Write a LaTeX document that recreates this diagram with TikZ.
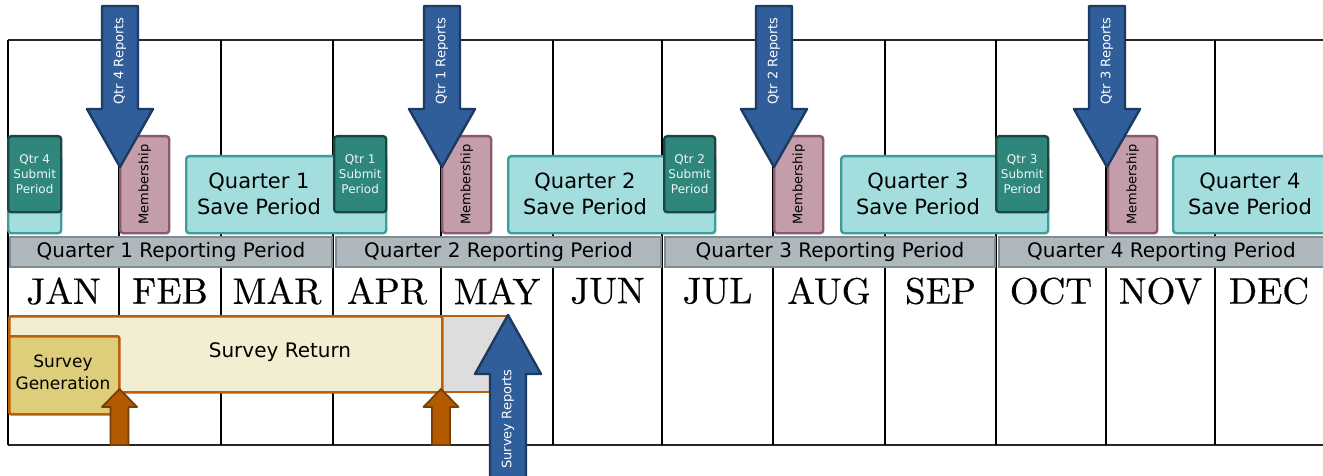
\documentclass[tikz,border=0pt]{standalone}
\usepackage{fontspec}
\newfontfamily\dvs{DejaVu Sans}
\newfontfamily\monthfont{lmroman10-regular}[Extension=.otf,FakeBold=0.35]
\definecolor{barfill}{HTML}{AEB8BC}
\definecolor{bardraw}{HTML}{7F8D92}
\definecolor{savefill}{HTML}{A4DDDD}
\definecolor{savedraw}{HTML}{3C9E9B}
\definecolor{subfill}{HTML}{2F877C}
\definecolor{subdraw}{HTML}{1C4641}
\definecolor{subtext}{HTML}{EEF7F5}
\definecolor{memfill}{HTML}{C39DA9}
\definecolor{memdraw}{HTML}{8A5A6C}
\definecolor{arrfill}{HTML}{2F5E9B}
\definecolor{arrdraw}{HTML}{1D3A60}
\definecolor{orfill}{HTML}{B35A00}
\definecolor{ordraw}{HTML}{7A3E05}
\definecolor{retfill}{HTML}{F3EDD1}
\definecolor{retdraw}{HTML}{BA5F0A}
\definecolor{genfill}{HTML}{DECD7A}
\definecolor{grayfill}{HTML}{DDDDDD}
\begin{document}
\begin{tikzpicture}[x=1pt,y=-1pt,
  hline/.style={line width=1.6pt,black!85},
  vline/.style={line width=2.2pt,black},
  month/.style={font=\monthfont\fontsize{37}{40}\selectfont,inner sep=0pt},
  barbox/.style={draw=bardraw,fill=barfill,line width=2pt,anchor=north west,inner sep=0pt,
    font=\dvs\fontsize{20}{24}\selectfont},
  savebox/.style={draw=savedraw,fill=savefill,line width=2.4pt,rounded corners=3pt,anchor=north west,inner sep=0pt,minimum height=77},
  savetext/.style={align=center,inner sep=0pt,font=\dvs\fontsize{21}{26}\selectfont},
  subbox/.style={draw=subdraw,fill=subfill,line width=2.4pt,rounded corners=3pt,anchor=north west,inner sep=0pt,minimum height=76,
    align=center,text=subtext,font=\dvs\fontsize{12}{15}\selectfont},
  membox/.style={draw=memdraw,fill=memfill,line width=2.4pt,rounded corners=3pt,anchor=north west,inner sep=0pt,minimum width=49,minimum height=97},
  memtext/.style={rotate=90,inner sep=0pt,font=\dvs\fontsize{13}{15}\selectfont},
  bluearrow/.style={draw=arrdraw,fill=arrfill,line width=2.4pt,line join=round},
  arrtext/.style={rotate=90,inner sep=0pt,text=white,font=\dvs\fontsize{13}{15}\selectfont},
  orarrow/.style={draw=ordraw,fill=orfill,line width=1.8pt,line join=round},
  retbox/.style={draw=retdraw,fill=retfill,line width=2.6pt,rounded corners=2pt,anchor=north west,inner sep=0pt},
  genbox/.style={draw=retdraw,fill=genfill,line width=2.6pt,rounded corners=2pt,anchor=north west,inner sep=0pt},
  graybox/.style={draw=retdraw,fill=grayfill,line width=1.6pt,anchor=north west,inner sep=0pt},
  survtext/.style={align=center,inner sep=0pt,font=\dvs\fontsize{20}{24}\selectfont},
  gentext/.style={align=center,inner sep=0pt,font=\dvs\fontsize{17}{22}\selectfont}]
\useasboundingbox (0,0) rectangle (1323,476);
\clip (0,0) rectangle (1323,476);
\fill[white] (0,0) rectangle (1323,476);

% grid
\draw[hline] (8,40) -- (1330,40);
\draw[hline] (8,445) -- (1330,445);
\foreach \x in {8,119,221,333,441,553,662,773,885,996,1106,1215}
  \draw[vline] (\x,40) -- (\x,445);

% months
\foreach \a/\b/\m in {8/119/JAN,119/221/FEB,221/333/MAR,333/441/APR,441/553/MAY,553/662/JUN,662/773/JUL,773/885/AUG,885/996/SEP,996/1106/OCT,1106/1215/NOV,1215/1323/DEC}
  \node[month] (m-\m) at ({(\a+\b)/2},291) {\m};

% reporting bars
\node[barbox,minimum width=322,minimum height=30] (bar1) at (9,236) {Quarter 1 Reporting Period};
\node[barbox,minimum width=325,minimum height=30] (bar2) at (335,236) {Quarter 2 Reporting Period};
\node[barbox,minimum width=330,minimum height=30] (bar3) at (664,236) {Quarter 3 Reporting Period};
\node[barbox,minimum width=325,minimum height=30] (bar4) at (998,236) {Quarter 4 Reporting Period};

% save periods
\node[savebox,minimum width=53] (save0) at (7,155) {};
\node[savebox,minimum width=200] (save1) at (185,155) {};
\node[savebox,minimum width=207] (save2) at (507,155) {};
\node[savebox,minimum width=207] (save3) at (840,155) {};
\node[savebox,minimum width=175] (save4) at (1172,155) {};
\node[savetext] (savet1) at (259,194) {Quarter 1\\Save Period};
\node[savetext] (savet2) at (585,194) {Quarter 2\\Save Period};
\node[savetext] (savet3) at (918,194) {Quarter 3\\Save Period};
\node[savetext] (savet4) at (1250,194) {Quarter 4\\Save Period};

% submit periods
\node[subbox,minimum width=53] (sub4) at (7,135) {Qtr 4\\Submit\\Period};
\node[subbox,minimum width=52] (sub1) at (333,135) {Qtr 1\\Submit\\Period};
\node[subbox,minimum width=51] (sub2) at (663,135) {Qtr 2\\Submit\\Period};
\node[subbox,minimum width=52] (sub3) at (995,135) {Qtr 3\\Submit\\Period};

% membership
\foreach \x/\n in {119/1,441/2,773/3,1107/4}{
  \node[membox] (mem\n) at (\x,135) {};
  \node[memtext] (memt\n) at (mem\n.center) {Membership};
}

% report arrows
\foreach \x/\t/\n in {120/Qtr 4 Reports/4,442/Qtr 1 Reports/1,774/Qtr 2 Reports/2,1107/Qtr 3 Reports/3}{
  \draw[bluearrow] (\x-18,6) -- (\x-18,109) -- (\x-33,109) -- (\x,167) -- (\x+33,109) -- (\x+18,109) -- (\x+18,6) -- cycle;
  \node[arrtext] (rep\n) at (\x,61) {\t};
}

% survey
\node[graybox,minimum width=67,minimum height=76] (sgray) at (441,315) {};
\node[retbox,minimum width=433,minimum height=76] (sret) at (8,315) {};
\node[survtext] (sret-t) at (280,352) {Survey Return};
\node[genbox,minimum width=110,minimum height=78] (sgen) at (8,335) {};
\node[gentext] (sgen-t) at (63,372) {Survey\\Generation};

\foreach \x/\n in {119.5/1,441/2}
  \draw[orarrow] (\x-9,445) -- (\x-9,407) -- (\x-17.5,407) -- (\x,389) -- (\x+17.5,407) -- (\x+9,407) -- (\x+9,445) -- cycle;

\draw[bluearrow] (490,482) -- (490,374) -- (475,374) -- (508,315) -- (541,374) -- (526,374) -- (526,482) -- cycle;
\node[arrtext] (srep) at (508,419) {Survey Reports};
\end{tikzpicture}
\end{document}
